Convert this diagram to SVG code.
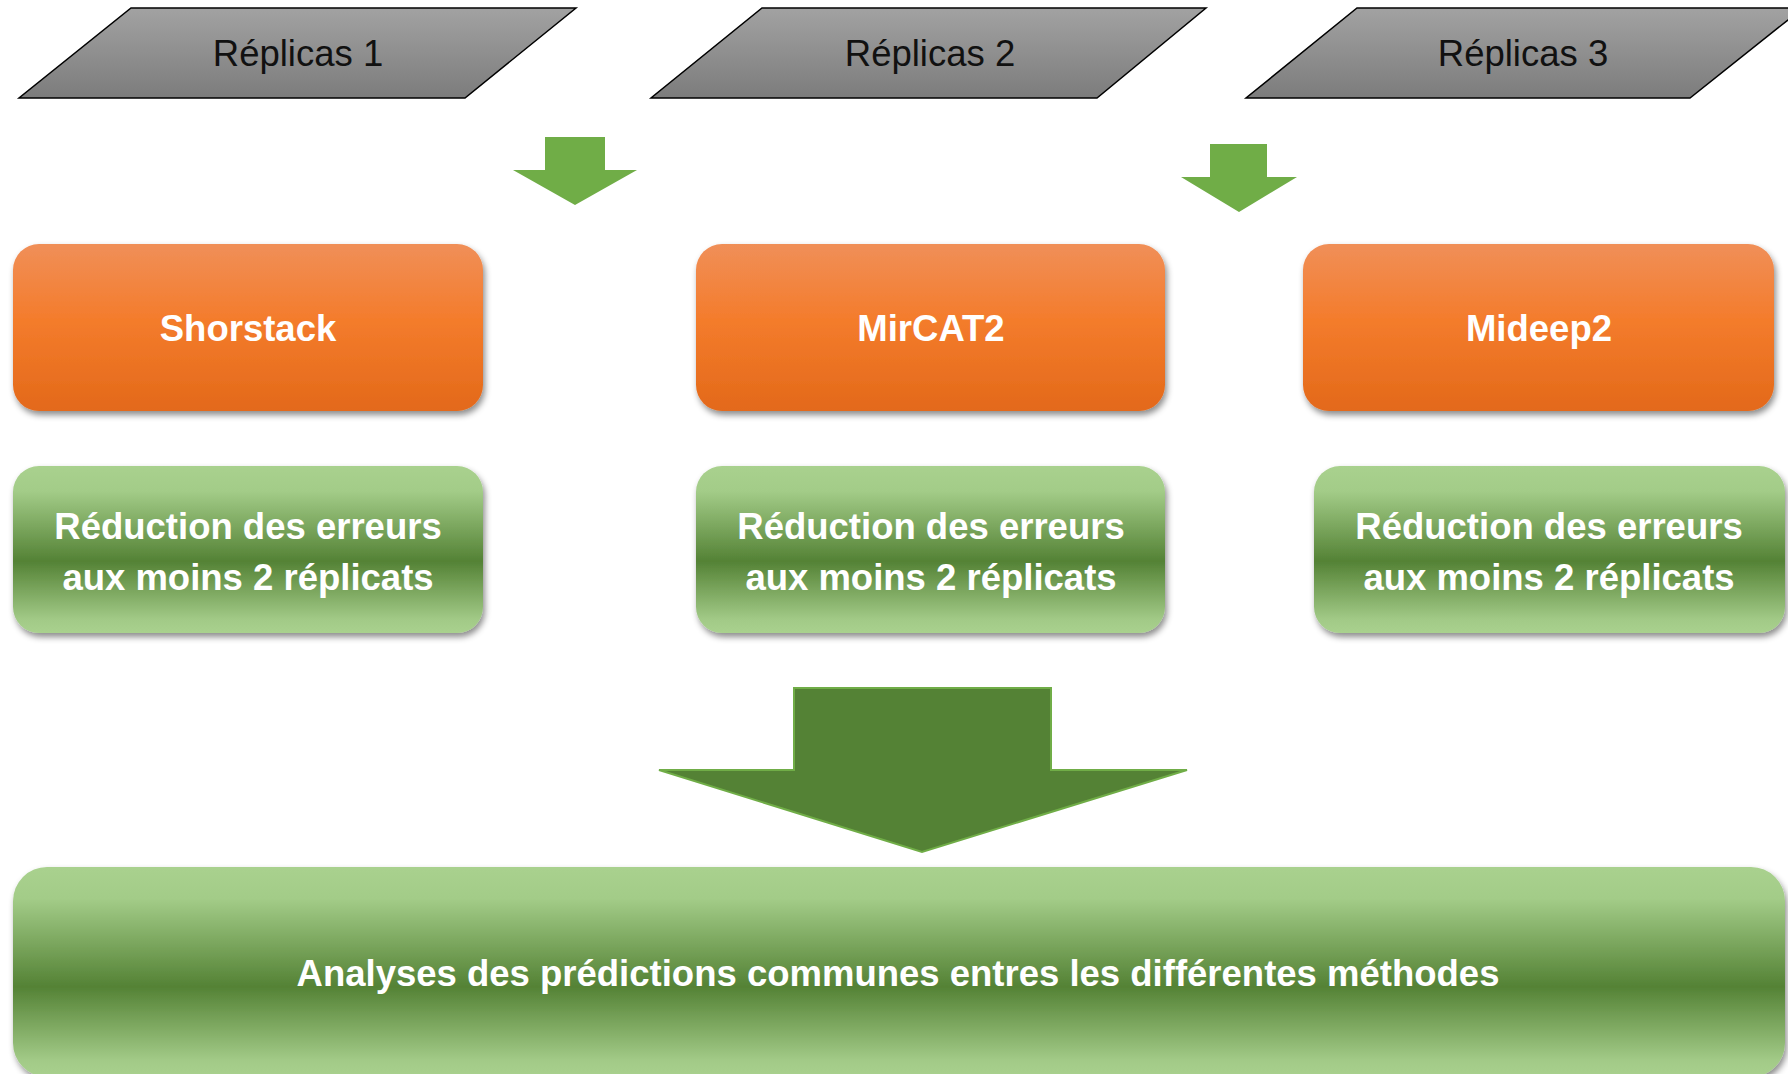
<svg xmlns="http://www.w3.org/2000/svg" width="1788" height="1074" viewBox="0 0 1788 1074">
<defs>
<linearGradient id="gGray" x1="0" y1="0" x2="0" y2="1">
<stop offset="0" stop-color="#A2A2A2"/><stop offset="1" stop-color="#7C7C7C"/>
</linearGradient>
<linearGradient id="gOrange" x1="0" y1="0" x2="0" y2="1">
<stop offset="0" stop-color="#F08F58"/><stop offset="0.45" stop-color="#F47C2C"/><stop offset="1" stop-color="#E3691A"/>
</linearGradient>
<linearGradient id="gGreen" x1="0" y1="0" x2="0" y2="1">
<stop offset="0" stop-color="#A9D18E"/><stop offset="0.15" stop-color="#A3CC88"/><stop offset="0.57" stop-color="#548235"/><stop offset="0.92" stop-color="#A2CA87"/><stop offset="1" stop-color="#A9D18E"/>
</linearGradient>
<filter id="sh" x="-5%" y="-10%" width="110%" height="125%">
<feDropShadow dx="2" dy="4" stdDeviation="3" flood-color="#000" flood-opacity="0.45"/>
</filter>
</defs>
<style>
.par{fill:url(#gGray);stroke:#000;stroke-width:1.5}
.or{fill:url(#gOrange);filter:url(#sh)}
.gr{fill:url(#gGreen);filter:url(#sh)}
.lbl{font-family:"Liberation Sans",Arial,sans-serif;font-size:36.5px;fill:#111;text-anchor:middle}
.bw{font-family:"Liberation Sans",Arial,sans-serif;font-weight:bold;font-size:36.5px;fill:#fff;text-anchor:middle}
.sa{fill:#70AD47}
.ba{fill:#548235;stroke:#70AD47;stroke-width:2}
</style>
<g id="replicas1"><polygon class="par" points="131,8 576,8 465,98 19,98"/><text class="lbl" x="298" y="66">Réplicas 1</text></g>
<g id="replicas2"><polygon class="par" points="762,8 1206,8 1097,98 651,98"/><text class="lbl" x="930" y="66">Réplicas 2</text></g>
<g id="replicas3"><polygon class="par" points="1357,8 1803,8 1690,98 1246,98"/><text class="lbl" x="1523" y="66">Réplicas 3</text></g>
<g id="connectors">
<polygon class="sa" points="545,137 605,137 605,170 637,170 575,205 513,170 545,170"/>
<polygon class="sa" points="1210,144 1267,144 1267,177 1297,177 1239,212 1181,177 1210,177"/>
<polygon class="ba" points="794,688 1051,688 1051,770 1187,770 922,852 659,770 794,770"/>
</g>
<g id="shorstack"><rect class="or" x="13" y="244" width="470" height="167" rx="26"/><text class="bw" x="248" y="341">Shorstack</text></g>
<g id="mircat2"><rect class="or" x="696" y="244" width="469" height="167" rx="26"/><text class="bw" x="931" y="341">MirCAT2</text></g>
<g id="mideep2"><rect class="or" x="1303" y="244" width="471" height="167" rx="26"/><text class="bw" x="1539" y="341">Mideep2</text></g>
<g id="reduction1"><rect class="gr" x="13" y="466" width="470" height="167" rx="26"/><text class="bw" x="248" y="539">Réduction des erreurs</text><text class="bw" x="248" y="590">aux moins 2 réplicats</text></g>
<g id="reduction2"><rect class="gr" x="696" y="466" width="469" height="167" rx="26"/><text class="bw" x="931" y="539">Réduction des erreurs</text><text class="bw" x="931" y="590">aux moins 2 réplicats</text></g>
<g id="reduction3"><rect class="gr" x="1314" y="466" width="471" height="167" rx="26"/><text class="bw" x="1549" y="539">Réduction des erreurs</text><text class="bw" x="1549" y="590">aux moins 2 réplicats</text></g>
<g id="analyses"><rect class="gr" x="13" y="867" width="1772" height="210" rx="34"/><text class="bw" x="898" y="986">Analyses des prédictions communes entres les différentes méthodes</text></g>
</svg>
